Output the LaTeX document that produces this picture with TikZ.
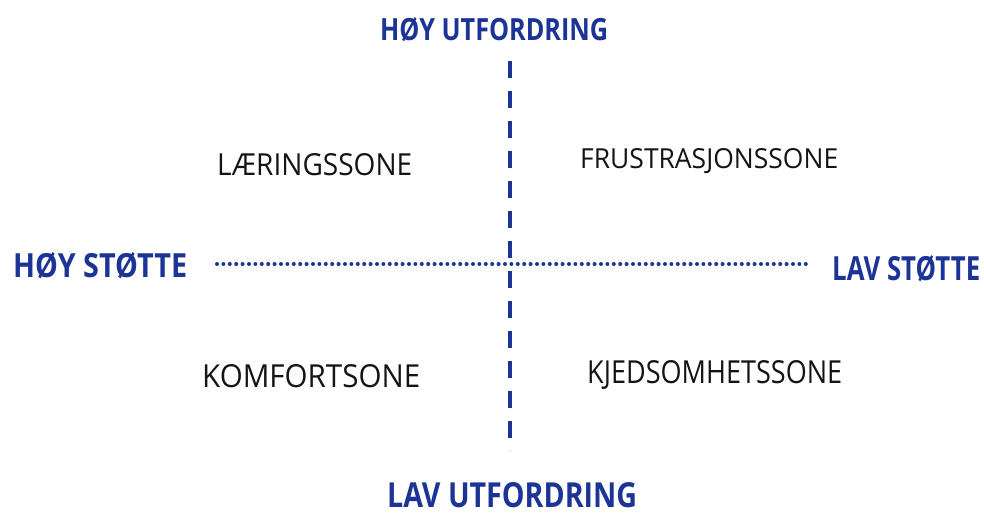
\documentclass[tikz,border=0pt]{standalone}
\usepackage{fontspec}
\setmainfont{Open Sans}
\usepackage{graphicx}
\definecolor{penblue}{RGB}{28,52,150}
\definecolor{penblack}{RGB}{20,20,20}
\newcommand{\fitlbl}[3]{\resizebox{#1}{#2}{#3}}
\tikzset{
  axislbl/.style={anchor=base west, inner sep=0pt, text=penblue, font=\bfseries},
  zonelbl/.style={anchor=base west, inner sep=0pt, text=penblack},
  vaxis/.style={draw=penblue, line width=3.8pt, dash pattern=on 17pt off 13pt},
  haxis/.style={draw=penblue, line width=4pt, line cap=round, dash pattern=on 0pt off 6.4pt}
}
\begin{document}
\begin{tikzpicture}[x=1pt,y=-1pt]
\useasboundingbox (0,0) rectangle (984,514);
% axes
\coordinate (vtop) at (510,61);
\coordinate (vbot) at (510,451);
\coordinate (hleft) at (217,264);
\coordinate (hright) at (807,264);
\draw[vaxis] (vtop) -- (vbot);
\draw[haxis] (hleft) -- (hright);
% axis labels
\node[axislbl] (hu) at (380,40) {\fitlbl{228pt}{23pt}{HØY UTFORDRING}};
\node[axislbl] (lu) at (387,507) {\fitlbl{250pt}{25pt}{LAV UTFORDRING}};
\node[axislbl] (hs) at (13,277) {\fitlbl{174pt}{25pt}{HØY STØTTE}};
\node[axislbl] (ls) at (832,280) {\fitlbl{148pt}{25pt}{LAV STØTTE}};
% zone labels
\node[zonelbl] (laer) at (217,175) {\fitlbl{195pt}{22pt}{LÆRINGSSONE}};
\node[zonelbl] (frus) at (580,168) {\fitlbl{258pt}{20pt}{FRUSTRASJONSSONE}};
\node[zonelbl] (komf) at (202,387) {\fitlbl{218pt}{23pt}{KOMFORTSONE}};
\node[zonelbl] (kjed) at (587,383) {\fitlbl{255pt}{23pt}{KJEDSOMHETSSONE}};
\end{tikzpicture}
\end{document}
